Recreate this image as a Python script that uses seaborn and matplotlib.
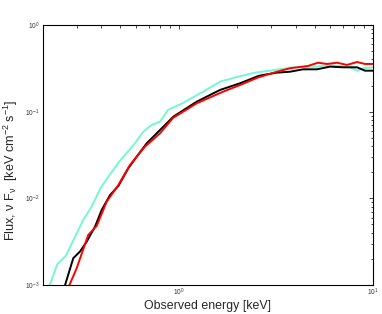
import matplotlib
matplotlib.use("Agg")
import matplotlib.pyplot as plt
import seaborn as sns
import pandas as pd
import numpy as np
from matplotlib.ticker import LogLocator

sns.set_style("white")
plt.rcParams['font.family'] = ['Liberation Sans', 'DejaVu Sans']
plt.rcParams['mathtext.fontset'] = 'custom'
plt.rcParams['mathtext.rm'] = 'Liberation Sans'
plt.rcParams['mathtext.it'] = 'Liberation Sans:italic'
plt.rcParams['mathtext.default'] = 'regular'

# Cyan model
cyan_e = [0.215, 0.237, 0.262, 0.3225, 0.356, 0.398, 0.489, 0.595, 0.657, 0.726, 0.801,
          0.880, 1.052, 1.334, 1.631, 1.995, 2.47, 2.95, 3.87, 5.15, 6.01, 7.62, 8.28, 8.89, 10.0]
cyan_f = [0.00095, 0.00174, 0.00217, 0.00564, 0.00802, 0.01343, 0.0258, 0.0432, 0.0588, 0.0703, 0.0767,
          0.1046, 0.126, 0.170, 0.222, 0.251, 0.282, 0.297, 0.325, 0.331, 0.346, 0.325, 0.297, 0.317, 0.325]

# Black model
black_e = [0.258, 0.2864, 0.310, 0.336, 0.3706, 0.401, 0.443, 0.489, 0.5495, 0.6075, 0.684, 0.801,
           0.938, 1.237, 1.631, 2.068, 2.57, 2.716, 3.206, 3.74, 4.36, 5.15, 6.01, 7.01, 8.28, 9.1, 10.0]
black_f = [0.00095, 0.00204, 0.00243, 0.00317, 0.00472, 0.00735, 0.01094, 0.0139, 0.0222, 0.0303, 0.0432, 0.0615,
           0.0876, 0.1304, 0.178, 0.2127, 0.258, 0.265, 0.282, 0.289, 0.308, 0.308, 0.331, 0.325, 0.325, 0.297, 0.297]

# Red model
red_e = [0.271, 0.298, 0.342, 0.378, 0.4256, 0.489, 0.561, 0.670, 0.801, 0.934, 1.237, 1.69,
         2.068, 2.57, 2.716, 3.206, 3.74, 4.63, 5.21, 5.80, 6.53, 7.35, 8.28, 9.1, 10.0]
red_f = [0.00095, 0.00156, 0.00378, 0.00481, 0.00916, 0.0143, 0.0243, 0.0395, 0.0563, 0.0846, 0.125, 0.170,
         0.203, 0.249, 0.258, 0.289, 0.317, 0.337, 0.367, 0.355, 0.367, 0.346, 0.374, 0.355, 0.355]

series = [(cyan_e, cyan_f, '#74f7d2'), (black_e, black_f, '#000000'), (red_e, red_f, '#ff0000')]

fig = plt.figure(figsize=(3.82, 3.14), dpi=100)
ax = fig.add_axes([0.1126, 0.0924, 0.8638, 0.828])

for e, f, c in series:
    df = pd.DataFrame({'E': e, 'F': f})
    sns.lineplot(data=df, x='E', y='F', color=c, lw=1.4, ax=ax, estimator=None, sort=False)

ax.set_xscale('log')
ax.set_yscale('log')
ax.set_xlim(0.2, 10)
ax.set_ylim(1e-3, 1)
ax.xaxis.set_major_locator(LogLocator(base=10, numticks=10))
ax.yaxis.set_major_locator(LogLocator(base=10, numticks=10))
ax.xaxis.set_minor_locator(LogLocator(base=10, subs=np.arange(2, 10), numticks=20))
ax.yaxis.set_minor_locator(LogLocator(base=10, subs=np.arange(2, 10), numticks=20))
ax.tick_params(which='both', direction='in', top=True, right=True, labelsize=4.8, width=0.6,
               labelcolor='#333333')
ax.tick_params(which='major', length=3, pad=2.5)
ax.tick_params(axis='x', which='major', pad=1.5)
ax.tick_params(which='minor', length=1.8)
for s in ax.spines.values():
    s.set_color('black')
    s.set_linewidth(0.8)

ax.set_xlabel('Observed energy [keV]', fontsize=8.9)
ax.xaxis.set_label_coords(0.5, -0.056)
ax.set_ylabel(r'Flux, $\nu$ F$_{\nu}$  [keV cm$^{-2}$ s$^{-1}$]', fontsize=9.1)
ax.yaxis.set_label_coords(-0.07, 0.44)

fig.savefig('out.png', dpi=100)
